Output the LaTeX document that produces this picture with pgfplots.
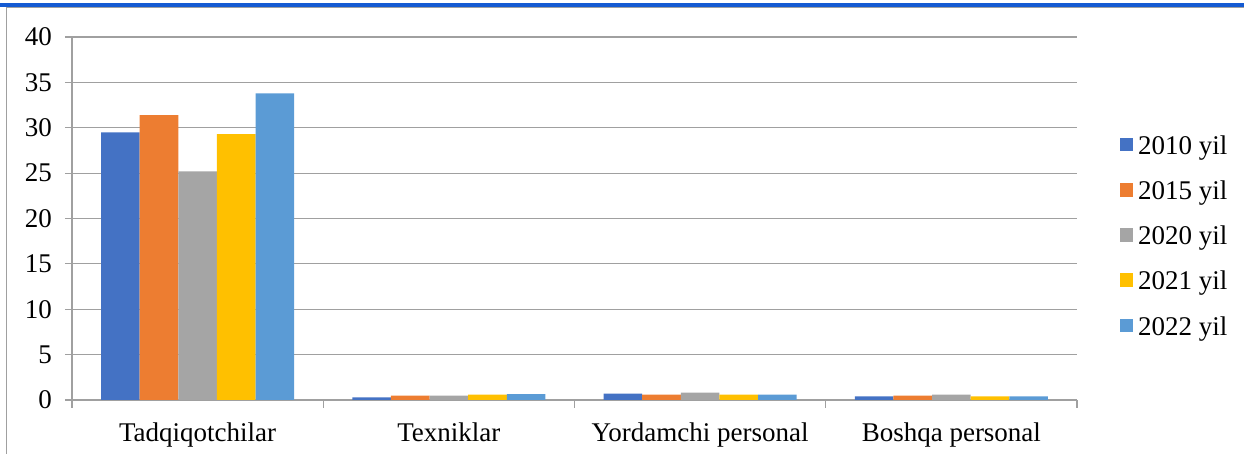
\documentclass[border=0pt]{standalone}
\usepackage{fontspec}
\setmainfont{Liberation Serif}
\usepackage{pgfplots}
\pgfplotsset{compat=1.18}
\definecolor{c1}{HTML}{4472C4}
\definecolor{c2}{HTML}{ED7D31}
\definecolor{c3}{HTML}{A5A5A5}
\definecolor{c4}{HTML}{FFC000}
\definecolor{c5}{HTML}{5B9BD5}
\definecolor{gridc}{HTML}{A0A0A0}
\begin{document}
\begin{tikzpicture}
\path[use as bounding box] (0,0) rectangle (622pt,227pt);
\fill[color={rgb,255:red,20;green,90;blue,210}] (0,223.6pt) rectangle (622pt,225.6pt);
\draw[gridc,line width=0.6pt] (3.1pt,0) -- (3.1pt,223.3pt) -- (622pt,223.3pt);
\begin{axis}[
  at={(36pt,27pt)}, anchor=south west,
  scale only axis, width=502.5pt, height=181.5pt,
  ybar=0pt, bar width=19.3pt,
  xmin=-0.5, xmax=3.5, ymin=0, ymax=40,
  xtick={0,1,2,3},
  xticklabels={Tadqiqotchilar,Texniklar,Yordamchi personal,Boshqa personal},
  minor xtick={-0.5,0.5,1.5,2.5,3.5},
  ytick={0,5,...,40},
  axis x line*=bottom, axis y line*=left,
  axis line style={gridc, line width=0.6pt, -},
  ymajorgrids, grid style={gridc, line width=0.6pt},
  tick align=outside,
  major tick length=3.5pt, minor tick length=4pt,
  major x tick style={draw=none},
  every tick/.style={gridc, line width=0.6pt},
  minor tick style={gridc, line width=0.6pt},
  tick label style={font=\fontsize{13.5}{16}\selectfont, text=black},
  /pgf/number format/assume math mode=true,
  yticklabel style={xshift=-3pt},
  xticklabel style={yshift=-4.2pt},
  legend style={at={(1.036,0.4450)}, anchor=west, draw=none, fill=none,
    font=\fontsize{13.5}{16}\selectfont, row sep=12.4pt,
    nodes={inner sep=0pt, text height=7pt, text depth=2pt}},
  legend cell align=left,
  legend image code/.code={\fill[#1,draw=none] (0pt,-1.1pt) rectangle (6.8pt,5.7pt);},
  /tikz/every odd column/.append style={column sep=2.5pt},
]
\addplot[fill=c1,draw=none] coordinates {(0,29.5) (1,0.29) (2,0.70) (3,0.40)};
\addplot[fill=c2,draw=none] coordinates {(0,31.4) (1,0.48) (2,0.59) (3,0.48)};
\addplot[fill=c3,draw=none] coordinates {(0,25.2) (1,0.48) (2,0.81) (3,0.59)};
\addplot[fill=c4,draw=none] coordinates {(0,29.3) (1,0.59) (2,0.59) (3,0.40)};
\addplot[fill=c5,draw=none] coordinates {(0,33.8) (1,0.66) (2,0.59) (3,0.40)};
\legend{2010 yil,2015 yil,2020 yil,2021 yil,2022 yil}
\end{axis}
\end{tikzpicture}
\end{document}
